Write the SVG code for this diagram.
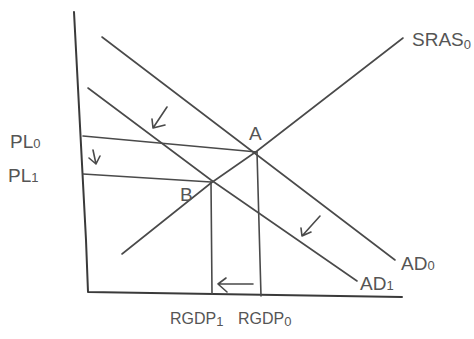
<svg xmlns="http://www.w3.org/2000/svg" width="474" height="339" viewBox="0 0 474 339">
<style>
.ln{stroke:#4a4a4a;stroke-width:1.6;fill:none;stroke-linecap:round;stroke-linejoin:round}
.ax{stroke:#3a3a3a;stroke-width:2;fill:none;stroke-linecap:round;stroke-linejoin:round}
.lb{font-family:"Liberation Sans",Arial,sans-serif;fill:#555;font-size:19px}
.sm{font-size:13px}
</style>
<rect width="474" height="339" fill="#fff"/>
<g id="axes">
<path class="ax" d="M74,12 Q80,130 86,240 L88,292 L402,297"/>
</g>
<g id="connectors">
<path id="AD0" class="ln" d="M102,37 L395,260"/>
<path id="AD1" class="ln" d="M88,88 L211,180 L357,281"/>
<path id="SRAS0" class="ln" d="M122,254 L211,183 L257,151 L403,38"/>
<path id="PL0line" class="ln" d="M83,136 L257,152"/>
<path id="PL1line" class="ln" d="M83,174 L211,182"/>
<path id="RGDP0line" class="ln" d="M257,152 L261,296"/>
<path id="RGDP1line" class="ln" d="M211,182 L212,294"/>
<path id="arrowLeft" class="ln" d="M253,284 L218,284 M226,278 L218,284 L227,292"/>
<path id="arrowAD1" class="ln" d="M167,107 L153,128 M152,119 L153,128 L165,125"/>
<path id="arrowAD2" class="ln" d="M320,216 L302,236 M301,228 L302,236 L311,232"/>
<path id="arrowDown" class="ln" d="M93,150 L96,164 M89,158 L96,164 L100,156"/>
</g>
<g id="labels">
<text class="lb" x="10" y="148">PL<tspan class="sm">0</tspan></text>
<text class="lb" x="8" y="182">PL<tspan class="sm">1</tspan></text>
<text class="lb" x="412" y="46">SRAS<tspan class="sm" dy="3">0</tspan></text>
<text class="lb" x="249" y="140">A</text>
<text class="lb" x="180" y="201">B</text>
<text class="lb" x="401" y="270">AD<tspan class="sm">0</tspan></text>
<text class="lb" x="360" y="290">AD<tspan class="sm">1</tspan></text>
<text class="lb" x="170" y="324" style="font-size:16px">RGDP<tspan class="sm" dy="2">1</tspan></text>
<text class="lb" x="238" y="324" style="font-size:16px">RGDP<tspan class="sm" dy="2">0</tspan></text>
</g>
</svg>
